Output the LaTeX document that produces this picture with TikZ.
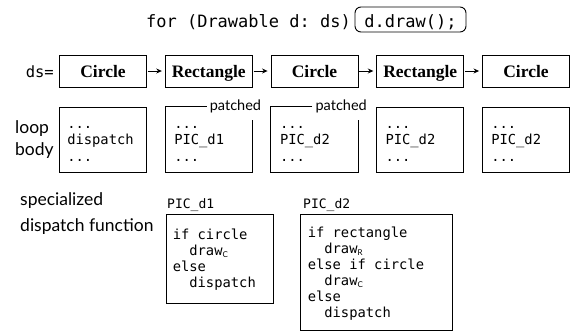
\documentclass[tikz,border=0pt]{standalone}
\usepackage{fontspec}
\setmainfont{Liberation Serif}
\setsansfont{Lato}
\setmonofont{DejaVu Sans Mono}
\usetikzlibrary{arrows.meta,calc}
\newcommand{\subC}[1]{{\fontsize{8}{8}\selectfont\sffamily\raisebox{-1.5pt}{#1}}}
\begin{document}
\begin{tikzpicture}[x=1pt,y=-1pt,
  lw/.style={line width=0.9pt},
  objbox/.style={draw,lw,minimum width=87pt,minimum height=32pt,inner sep=0pt,
     font=\fontsize{17.5}{20}\selectfont\bfseries,text height=12pt,text depth=0pt},
  bodybox/.style={minimum width=87pt,minimum height=65pt,inner sep=0pt},
  code/.style={font=\fontsize{13.8}{16.5}\selectfont\ttfamily,align=left,inner sep=0pt},
  fcode/.style={font=\fontsize{13.8}{16}\selectfont\ttfamily,align=left,inner sep=0pt},
  lbl/.style={font=\fontsize{13}{15}\selectfont\ttfamily,inner sep=0pt},
  side/.style={font=\fontsize{17.5}{20}\selectfont\sffamily,inner sep=0pt},
  patch/.style={font=\fontsize{14.5}{16}\selectfont\sffamily,inner xsep=3pt,inner ysep=0pt},
  arr/.style={line width=0.8pt,-{Stealth[length=5.5pt,width=5pt]},shorten <=1pt,shorten >=3pt}
]
\useasboundingbox (0,0) rectangle (572,332);

% top line
\node[font=\fontsize{17}{20}\selectfont\ttfamily,anchor=base east,inner sep=0pt] (loop) at (351,27) {for (Drawable d: ds)};
\node[draw,lw,rounded corners=6pt,font=\fontsize{17}{20}\selectfont\ttfamily,minimum width=111pt,
      text height=20pt,text depth=5pt,inner ysep=0pt,anchor=base] (call) at (410.5,27) {d.draw();};

% object list
\node[font=\fontsize{15.5}{18}\selectfont\ttfamily,anchor=base east,inner sep=0pt] (ds) at (54,77) {ds=};
\node[objbox] (o1) at (103,71) {Circle};
\node[objbox] (o2) at (208.75,71) {Rectangle};
\node[objbox] (o3) at (314.5,71) {Circle};
\node[objbox] (o4) at (420.25,71) {Rectangle};
\node[objbox] (o5) at (526,71) {Circle};
\draw[arr] (o1) -- (o2);
\draw[arr] (o2) -- (o3);
\draw[arr] (o3) -- (o4);
\draw[arr] (o4) -- (o5);

% loop body
\node[side,anchor=base west] (lp) at (15,133) {loop};
\node[side,anchor=base west] (bd) at (15,155) {body};

\node[bodybox,draw,lw] (l1) at (103,139.5) {};
\node[bodybox] (l2) at (208.75,139.5) {};
\node[bodybox] (l3) at (314.5,139.5) {};
\node[bodybox,draw,lw] (l4) at (420.25,139.5) {};
\node[bodybox,draw,lw] (l5) at (526,139.5) {};

\node[patch] (p2) at ($(l2.north east)+(-17,0)$) {patched};
\node[patch] (p3) at ($(l3.north east)+(-17,0)$) {patched};
\coordinate (c2) at ($(l2.north east)+(0,13)$);
\coordinate (c3) at ($(l3.north east)+(0,13)$);
\draw[lw] (p2.west) -- (l2.north west) -- (l2.south west) -- (l2.south east) -- (c2);
\draw[lw] (p3.west) -- (l3.north west) -- (l3.south west) -- (l3.south east) -- (c3);

\node[code,anchor=west] (t1) at ($(l1.west)+(8,4)$) {...\\dispatch\\...};
\node[code,anchor=west] (t2) at ($(l2.west)+(9,4)$) {...\\PIC\_d1\\...};
\node[code,anchor=west] (t3) at ($(l3.west)+(9,4)$) {...\\PIC\_d2\\...};
\node[code,anchor=west] (t4) at ($(l4.west)+(9,4)$) {...\\PIC\_d2\\...};
\node[code,anchor=west] (t5) at ($(l5.west)+(9,4)$) {...\\PIC\_d2\\...};

% specialized dispatch functions
\node[side,anchor=base west] (sp1) at (20,205) {specialized};
\node[side,anchor=base west] (sp2) at (20,231) {dispatch function};

\node[lbl,anchor=base west] (n1) at (167,208) {PIC\_d1};
\node[lbl,anchor=base west] (n2) at (303,208) {PIC\_d2};

\node[draw,lw,minimum width=107pt,minimum height=89pt,inner sep=0pt] (d1) at (219.5,258.5) {};
\node[draw,lw,minimum width=152pt,minimum height=116pt,inner sep=0pt] (d2) at (376,272) {};

\node[fcode,anchor=west] (f1) at ($(d1.west)+(7,1.5)$) {if circle\\\ \ draw\subC{C}\\else\\\ \ dispatch};
\node[fcode,anchor=west] (f2) at ($(d2.west)+(8,2)$) {if rectangle\\\ \ draw\subC{R}\\else if circle\\\ \ draw\subC{C}\\else\\\ \ dispatch};
\end{tikzpicture}
\end{document}
